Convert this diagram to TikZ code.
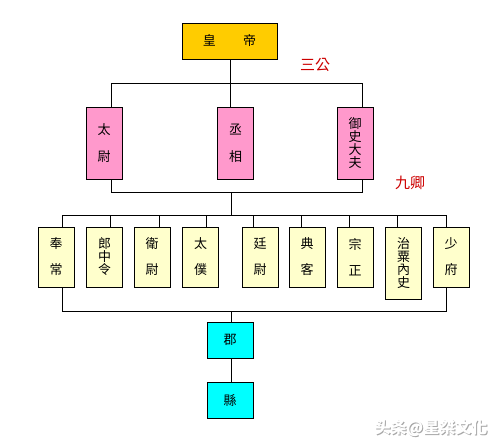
\documentclass[tikz,border=0pt]{standalone}
\usepackage{fontspec}
\usepackage{xcolor}
\newfontfamily\cjk{Noto Sans CJK TC}
\usetikzlibrary{positioning,calc}

\definecolor{emperorgold}{HTML}{FFCC00}
\definecolor{gongpink}{HTML}{FF99CC}
\definecolor{qingyellow}{HTML}{FFFFCC}
\definecolor{juncyan}{HTML}{00FFFF}
\definecolor{labelred}{HTML}{CC0000}

\tikzset{
    office/.style={draw=black, line width=0.9pt, inner sep=0pt, align=center,
        font=\cjk\fontsize{13}{13}\selectfont, text=black},
    gongbox/.style={office, fill=gongpink, minimum width=36pt, minimum height=72pt},
    qingbox/.style={office, fill=qingyellow, minimum width=36pt, minimum height=60pt},
    localbox/.style={office, fill=juncyan, minimum width=46pt, minimum height=36pt},
    link/.style={draw=black, line width=0.9pt},
    rank/.style={text=labelred, font=\cjk\fontsize{15}{15}\selectfont, inner sep=0pt}
}

\begin{document}
\begin{tikzpicture}[x=1pt, y=-1pt]
    \useasboundingbox (0,0) rectangle (496,442);

    % Emperor
    \node[office, fill=emperorgold, minimum width=95pt, minimum height=36pt] (emperor) at (229.5,41) {皇\hspace{2.1em}帝};
    \node[rank] (sangong) at (315,65) {三公};

    % Three Excellencies
    \node[gongbox] (taiwei) at (104,143) {太\\[14pt]尉};
    \node[gongbox] (chengxiang) at (235.5,143) {丞\\[14pt]相};
    \node[gongbox] (yushi) at (355,143) {御\\史\\大\\夫};

    \coordinate (topmid) at (230,83);
    \coordinate (topleft) at (111,83);
    \coordinate (topright) at (362,83);
    \draw[link] (emperor.south -| topmid) -- (topmid);
    \draw[link] (topleft) -- (topright);
    \draw[link] (topleft) -- (topleft |- taiwei.north);
    \draw[link] (topmid |- chengxiang.north) -- (topmid);
    \draw[link] (topright) -- (topright |- yushi.north);

    \coordinate (midleft) at (111,192);
    \coordinate (midright) at (362,192);
    \coordinate (midmid) at (231,192);
    \draw[link] (taiwei.south -| midleft) -- (midleft) -- (midright) -- (yushi.south -| midright);
    \node[rank] (jiuqing) at (410,183) {九卿};

    % Nine Ministers
    \node[qingbox] (fengchang) at (56,257) {奉\\[13pt]常};
    \node[qingbox] (langzhong) at (104.5,257) {郎\\中\\令};
    \node[qingbox] (weiwei) at (152,257) {衛\\[13pt]尉};
    \node[qingbox] (taipu) at (200.5,257) {太\\[13pt]僕};
    \node[qingbox] (tingwei) at (260,257) {廷\\[13pt]尉};
    \node[qingbox] (dianke) at (307,257) {典\\[13pt]客};
    \node[qingbox] (zongzheng) at (355,257) {宗\\[13pt]正};
    \node[qingbox, minimum height=72pt] (zhisu) at (403.5,263) {治\\粟\\內\\史};
    \node[qingbox] (shaofu) at (451,257) {少\\[13pt]府};

    \coordinate (busleft) at (62,215);
    \coordinate (busright) at (446,215);
    \draw[link] (midmid) -- (midmid |- busleft);
    \draw[link] (busleft) -- (busright);
    \foreach \office/\xpos in {fengchang/62, langzhong/110, weiwei/159, taipu/206,
        tingwei/253, dianke/301, zongzheng/349, zhisu/397, shaofu/446}
        \draw[link] (\xpos,215) -- (\xpos,215 |- \office.north);

    % Commanderies and counties
    \node[localbox] (jun) at (230,340) {郡};
    \node[localbox] (xian) at (230,400) {縣};

    \coordinate (lowleft) at (62,311);
    \coordinate (lowright) at (446,311);
    \draw[link] (fengchang.south -| lowleft) -- (lowleft) -- (lowright) -- (shaofu.south -| lowright);
    \draw[link] (jun.north -| 231,0) -- (231,311);
    \draw[link] (jun.south -| 231,0) -- (xian.north -| 231,0);

    % Watermark
    \node[text=gray!70, font=\cjk\bfseries\fontsize{16}{16}\selectfont] at (432,429.5) {头条@星桀文化};
    \node[text=white, font=\cjk\bfseries\fontsize{16}{16}\selectfont] (mark) at (431,428) {头条@星桀文化};
\end{tikzpicture}
\end{document}
